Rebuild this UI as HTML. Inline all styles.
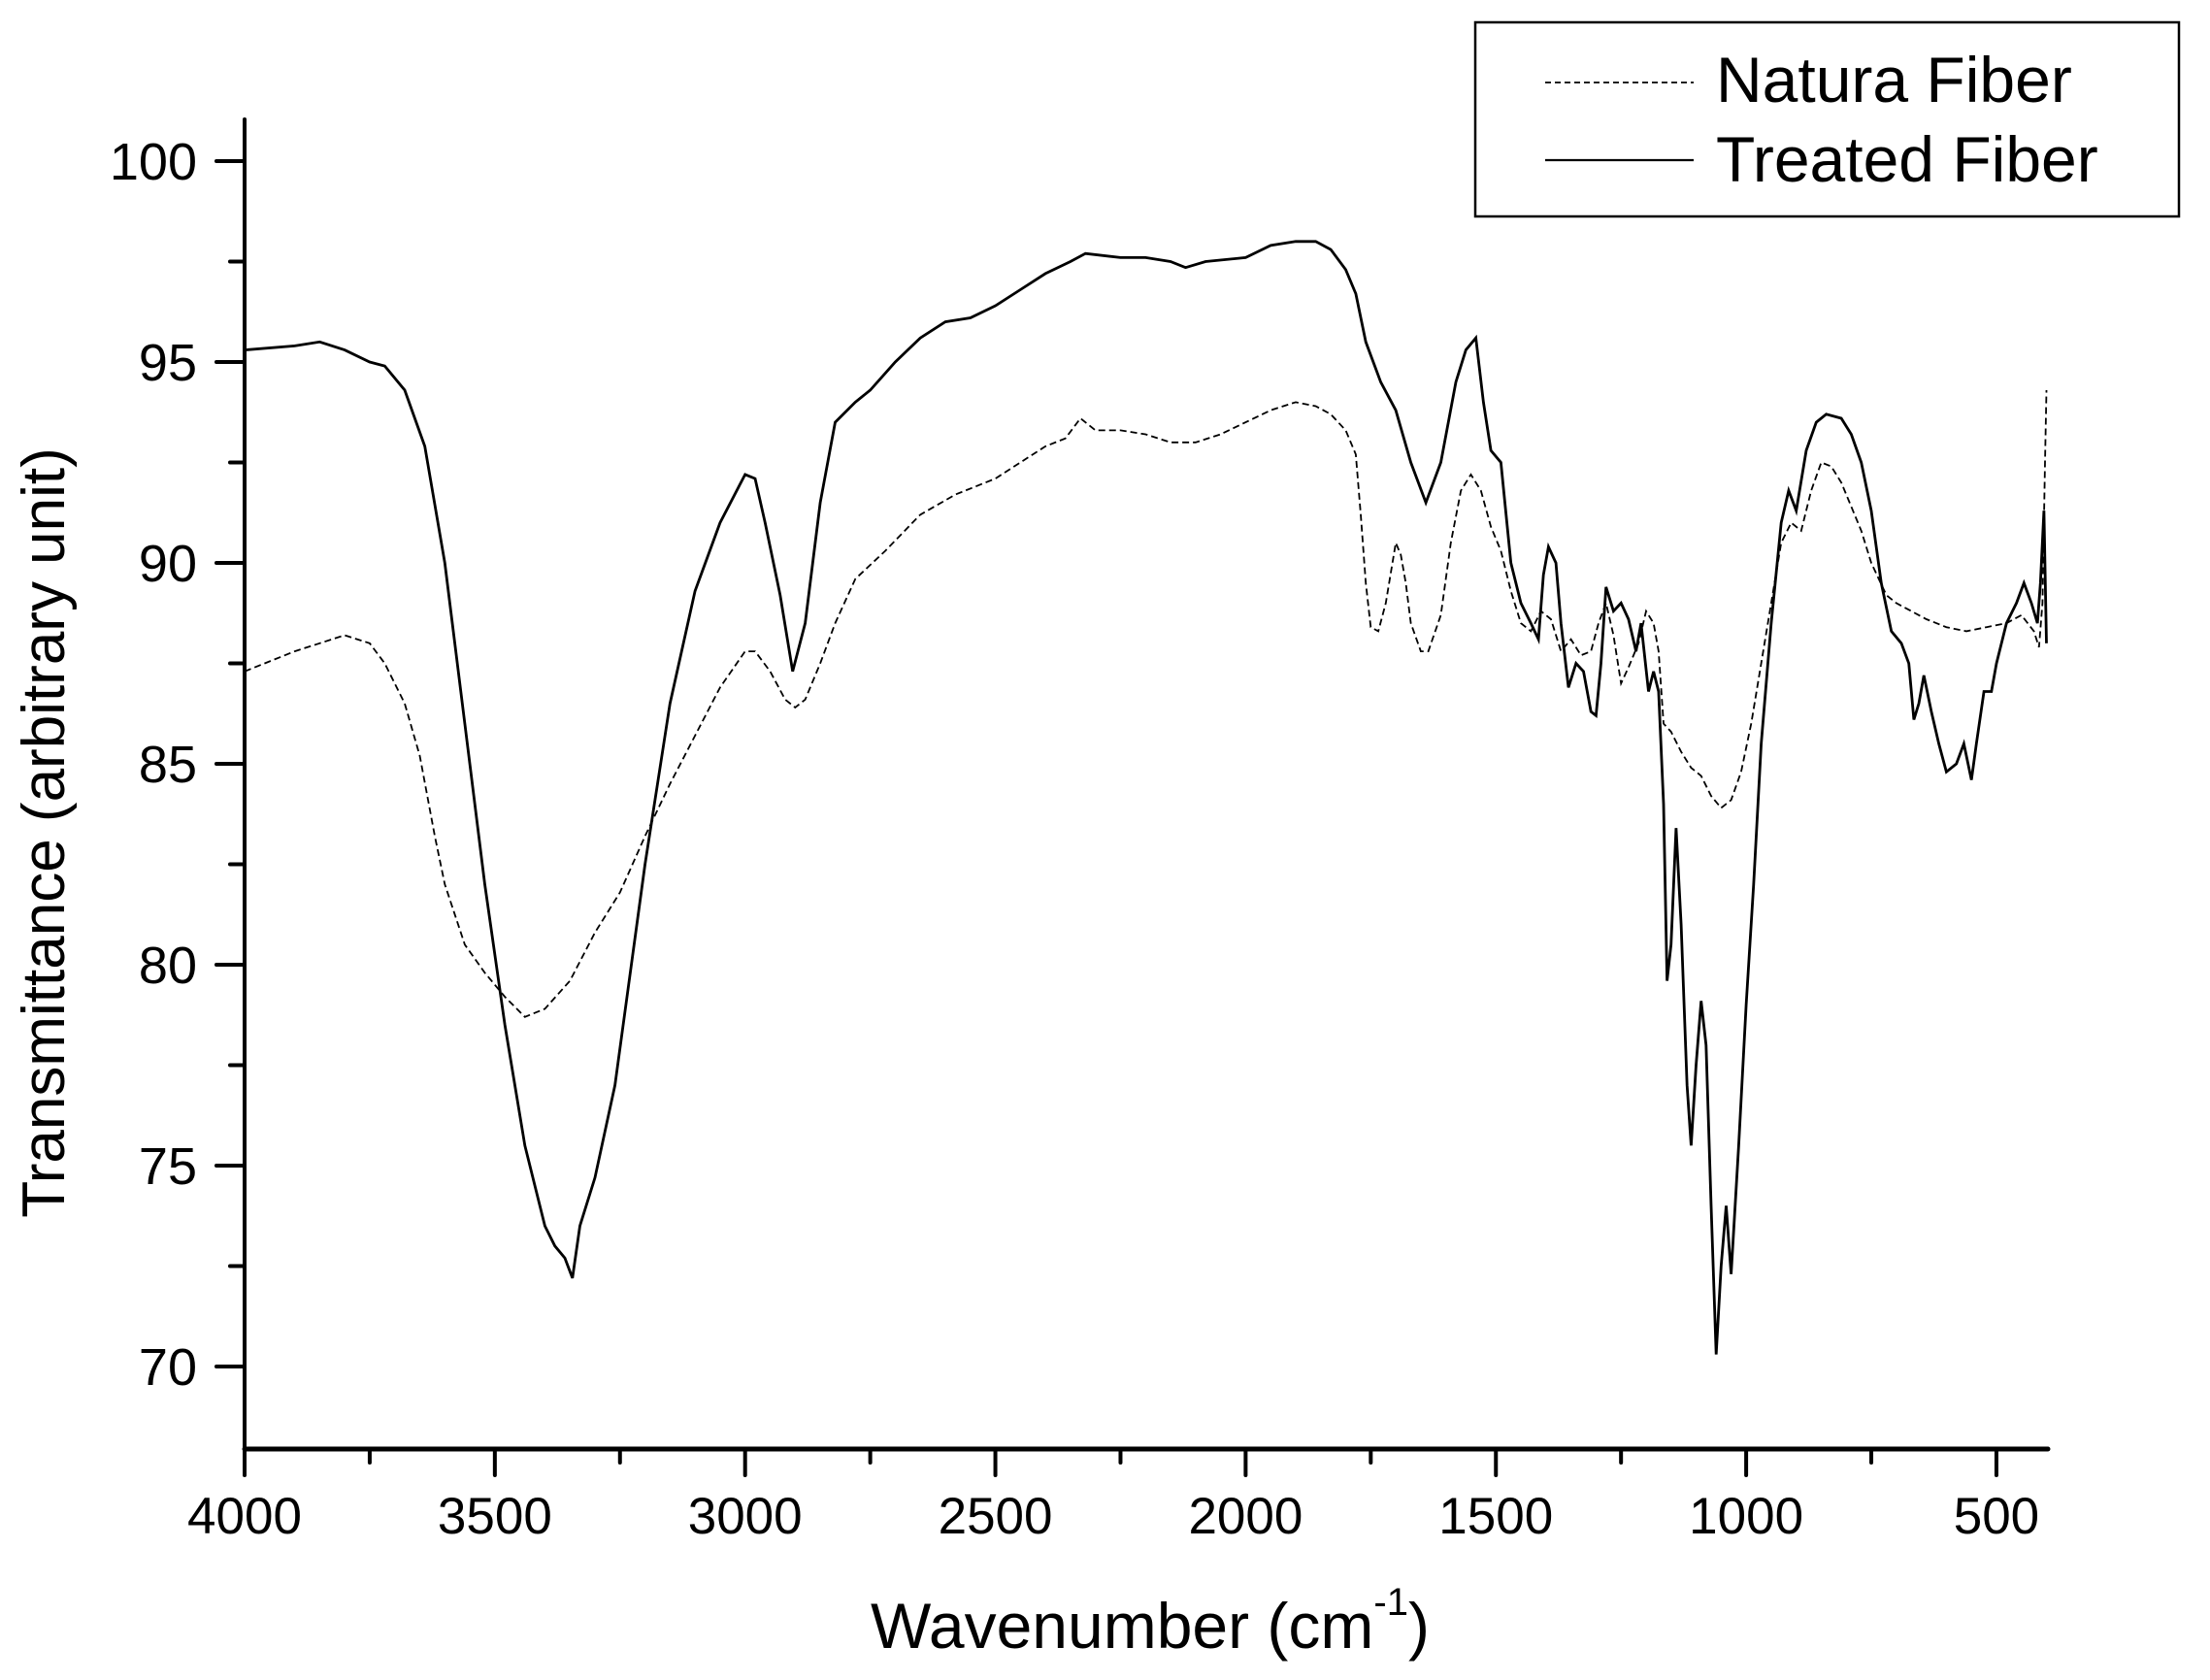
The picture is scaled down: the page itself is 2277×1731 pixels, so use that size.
<!DOCTYPE html>
<html><head><meta charset="utf-8"><style>
html,body{margin:0;padding:0;background:#fff;}
svg{display:block;}
text{font-family:"Liberation Sans",Arial,sans-serif;fill:#000;}
</style></head><body>
<svg id="s" width="2277" height="1731" viewBox="0 0 2277 1731" xmlns="http://www.w3.org/2000/svg">
<rect width="2277" height="1731" fill="#fff"/>
<g id="axes" stroke="#000" fill="none" stroke-linecap="round"></g>
<g id="labels"></g>
<path id="nat" fill="none" stroke="#000" stroke-width="1.8" stroke-dasharray="7 4"/>
<path id="tre" fill="none" stroke="#000" stroke-width="2.8"/>
<rect x="1520" y="23" width="725" height="200" fill="none" stroke="#000" stroke-width="2.5"/>
<line x1="1592" y1="85" x2="1745" y2="85" stroke="#000" stroke-width="1.8" stroke-dasharray="6 4"/>
<line x1="1592" y1="165" x2="1745" y2="165" stroke="#000" stroke-width="2.2"/>
<text x="1768" y="105" font-size="66">Natura Fiber</text>
<text x="1768" y="187" font-size="66">Treated Fiber</text>
<text x="1185" y="1698" font-size="66" text-anchor="middle">Wavenumber (cm<tspan font-size="40" dy="-34">-1</tspan><tspan dy="34">)</tspan></text>
<text transform="translate(66,858) rotate(-90)" font-size="62" text-anchor="middle">Transmittance (arbitrary unit)</text>
</svg>
<script>
var X=function(w){return 252+(4000-w)*0.5157;};
var Y=function(t){return 166+(100-t)*41.4;};
var ax=document.getElementById('axes'),lb=document.getElementById('labels');
var ns='http://www.w3.org/2000/svg';
function el(p,tag,a,txt){var e=document.createElementNS(ns,tag);for(var k in a)e.setAttribute(k,a[k]);if(txt!==undefined)e.textContent=txt;p.appendChild(e);return e;}
el(ax,'line',{x1:252,y1:123,x2:252,y2:1493,'stroke-width':4});
el(ax,'line',{x1:252,y1:1493,x2:2110,y2:1493,'stroke-width':5});
for(var t=70;t<=100;t+=2.5){var maj=(t%5===0);el(ax,'line',{x1:maj?223:237,y1:Y(t),x2:252,y2:Y(t),'stroke-width':4});
 if(maj)el(lb,'text',{x:203,y:Y(t)+19,'font-size':54,'text-anchor':'end'},String(t));}
for(var w=4000;w>=500;w-=250){var maj=(w%500===0);el(ax,'line',{x1:X(w),y1:1493,x2:X(w),y2:maj?1520:1507,'stroke-width':4});
 if(maj)el(lb,'text',{x:X(w),y:1580,'font-size':53,'text-anchor':'middle'},String(w));}
var tre=[4000,95.3,3900,95.4,3850,95.5,3800,95.3,3750,95.0,3720,94.9,3680,94.3,3640,92.9,3600,90.0,3560,86,3520,82,3480,78.5,3440,75.5,3400,73.5,3380,73.0,3360,72.7,3345,72.2,3330,73.5,3300,74.7,3260,77,3200,82.5,3150,86.5,3100,89.3,3050,91.0,3000,92.2,2980,92.1,2960,91.0,2930,89.2,2905,87.3,2880,88.5,2850,91.5,2820,93.5,2780,94.0,2750,94.3,2700,95.0,2650,95.6,2600,96.0,2550,96.1,2500,96.4,2450,96.8,2400,97.2,2350,97.5,2320,97.7,2250,97.6,2200,97.6,2150,97.5,2120,97.35,2080,97.5,2000,97.6,1950,97.9,1900,98.0,1860,98.0,1830,97.8,1800,97.3,1780,96.7,1760,95.5,1730,94.5,1700,93.8,1670,92.5,1640,91.5,1610,92.5,1580,94.5,1560,95.3,1540,95.6,1525,94.0,1510,92.8,1490,92.5,1470,90.0,1450,89.0,1430,88.5,1415,88.1,1405,89.7,1395,90.4,1380,90.0,1370,88.5,1355,86.9,1340,87.5,1325,87.3,1310,86.3,1300,86.2,1290,87.5,1280,89.4,1265,88.8,1250,89.0,1235,88.6,1220,87.8,1210,88.5,1195,86.8,1185,87.3,1175,86.8,1165,84,1158,79.6,1150,80.5,1140,83.4,1130,81,1118,77,1110,75.5,1100,77.5,1090,79.1,1080,78,1070,74,1060,70.3,1050,72.5,1040,74,1030,72.3,1015,75.5,1000,79,985,82,970,85.5,950,88.5,930,91.0,915,91.8,900,91.3,880,92.8,860,93.5,840,93.7,810,93.6,790,93.2,770,92.5,750,91.3,730,89.5,710,88.3,690,88.0,675,87.5,665,86.1,655,86.5,645,87.2,630,86.3,615,85.5,600,84.8,580,85.0,565,85.5,550,84.6,540,85.5,525,86.8,510,86.8,500,87.5,480,88.5,460,89.0,445,89.5,430,89.0,418,88.5,412,89.5,405,91.3,400,88.0];
var nat=[4000,87.3,3900,87.8,3850,88.0,3800,88.2,3750,88.0,3720,87.5,3680,86.5,3650,85.2,3620,83.2,3600,82.0,3560,80.5,3520,79.8,3480,79.2,3440,78.7,3400,78.9,3350,79.6,3300,80.8,3250,81.8,3200,83.2,3150,84.5,3100,85.7,3050,86.9,3000,87.8,2980,87.8,2950,87.3,2920,86.6,2900,86.4,2880,86.6,2850,87.5,2820,88.5,2780,89.6,2720,90.3,2650,91.2,2580,91.7,2500,92.1,2450,92.5,2400,92.9,2360,93.1,2330,93.6,2300,93.3,2250,93.3,2200,93.2,2150,93.0,2100,93.0,2050,93.2,2000,93.5,1950,93.8,1900,94.0,1860,93.9,1830,93.7,1800,93.3,1780,92.7,1770,91.2,1760,89.5,1750,88.4,1735,88.3,1720,89.0,1700,90.5,1690,90.2,1680,89.5,1670,88.5,1650,87.8,1635,87.8,1610,88.7,1590,90.5,1570,91.8,1550,92.2,1530,91.8,1510,90.9,1490,90.3,1470,89.3,1450,88.5,1430,88.3,1410,88.8,1390,88.6,1370,87.8,1350,88.1,1330,87.7,1310,87.8,1295,88.5,1280,89.0,1265,88.2,1250,87.0,1235,87.4,1215,88.0,1200,88.8,1185,88.5,1175,87.8,1165,86.0,1150,85.8,1130,85.3,1110,84.9,1090,84.7,1070,84.2,1050,83.9,1030,84.1,1010,84.8,990,86.0,970,87.5,950,89.0,930,90.5,910,91.0,890,90.8,870,91.8,850,92.5,830,92.4,810,92.0,790,91.4,770,90.8,750,90.0,720,89.2,700,89.0,670,88.8,640,88.6,600,88.4,560,88.3,520,88.4,480,88.5,450,88.7,425,88.3,415,87.9,408,89.0,403,92.5,400,94.3];
function path(a){var d='';for(var i=0;i<a.length;i+=2)d+=(i?'L':'M')+X(a[i]).toFixed(1)+','+Y(a[i+1]).toFixed(1);return d;}
document.getElementById('tre').setAttribute('d',path(tre));
document.getElementById('nat').setAttribute('d',path(nat));
</script>
</body></html>
